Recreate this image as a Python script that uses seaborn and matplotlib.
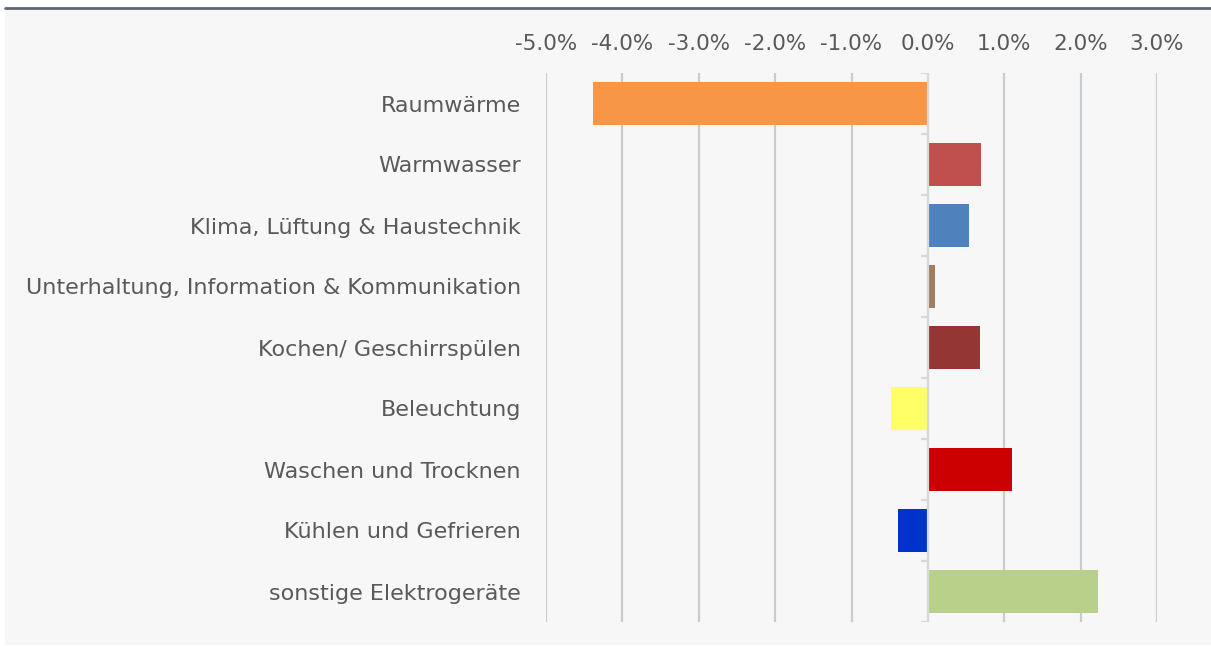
import numpy as np
import pandas as pd
import matplotlib.pyplot as plt
import seaborn as sns
from matplotlib.patches import Rectangle
from matplotlib.lines import Line2D
from matplotlib.ticker import FuncFormatter

# Anwendungsbereiche und Veränderung (in %)
categories = ['Raumwärme', 'Warmwasser', 'Klima, Lüftung & Haustechnik',
              'Unterhaltung, Information & Kommunikation', 'Kochen/ Geschirrspülen',
              'Beleuchtung', 'Waschen und Trocknen', 'Kühlen und Gefrieren',
              'sonstige Elektrogeräte']
change = [-4.38, 0.69, 0.54, 0.09, 0.68, -0.48, 1.10, -0.39, 2.23]
bar_colors = ['#F79646', '#C0504D', '#4F81BD', '#A47D5F', '#943634',
              '#FFFF66', '#CC0000', '#0033CC', '#B9D08B']
x_ticks = [-5, -4, -3, -2, -1, 0, 1, 2, 3]

df = pd.DataFrame({'Bereich': categories, 'Veraenderung': change})

sns.set_style('white')
plt.rcParams['font.family'] = ['DejaVu Sans']

fig = plt.figure(figsize=(12.11, 6.47), dpi=100, facecolor='white')
# light grey panel and dark top rule
fig.patches.append(Rectangle((5 / 1211, 2 / 647), 1206 / 1211, 635 / 647,
                             transform=fig.transFigure, facecolor='#f7f7f7',
                             edgecolor='none', zorder=0))
fig.lines.append(Line2D([5 / 1211, 1], [1 - 8 / 647, 1 - 8 / 647],
                        transform=fig.transFigure, color='#5f6670', lw=2))

ax = fig.add_axes([546 / 1211, 1 - 622 / 647, 611 / 1211, 549 / 647])
ax.set_zorder(2)
ax.set_facecolor('none')

sns.barplot(data=df, x='Veraenderung', y='Bereich', hue='Bereich',
            palette=bar_colors, orient='h', width=0.72, legend=False,
            saturation=1, linewidth=0, ax=ax, zorder=3)

ax.set_xlim(-5, 3)
ax.set_ylim(len(categories) - 0.5, -0.5)
ax.set_xticks(x_ticks)
ax.xaxis.set_major_formatter(FuncFormatter(lambda v, p: f'{v:.1f}%'))
ax.xaxis.tick_top()
ax.tick_params(axis='x', length=0, pad=14, labelsize=15.5, labelcolor='#595959')
ax.tick_params(axis='y', length=0, pad=18, labelsize=16, labelcolor='#595959')
ax.grid(axis='x', color='#c8ccd0', lw=1.6, zorder=1)
for side in ['top', 'bottom', 'left', 'right']:
    ax.spines[side].set_visible(False)
ax.set_xlabel('')
ax.set_ylabel('')

# zero axis with small category ticks
ax.axvline(0, color='#d9d9d9', lw=1.6, zorder=4)
bounds = np.arange(len(categories) + 1) - 0.5
ax.hlines(bounds, -0.09, 0, color='#d9d9d9', lw=1.6, zorder=4)

fig.savefig('out.png', dpi=100, facecolor='white')
